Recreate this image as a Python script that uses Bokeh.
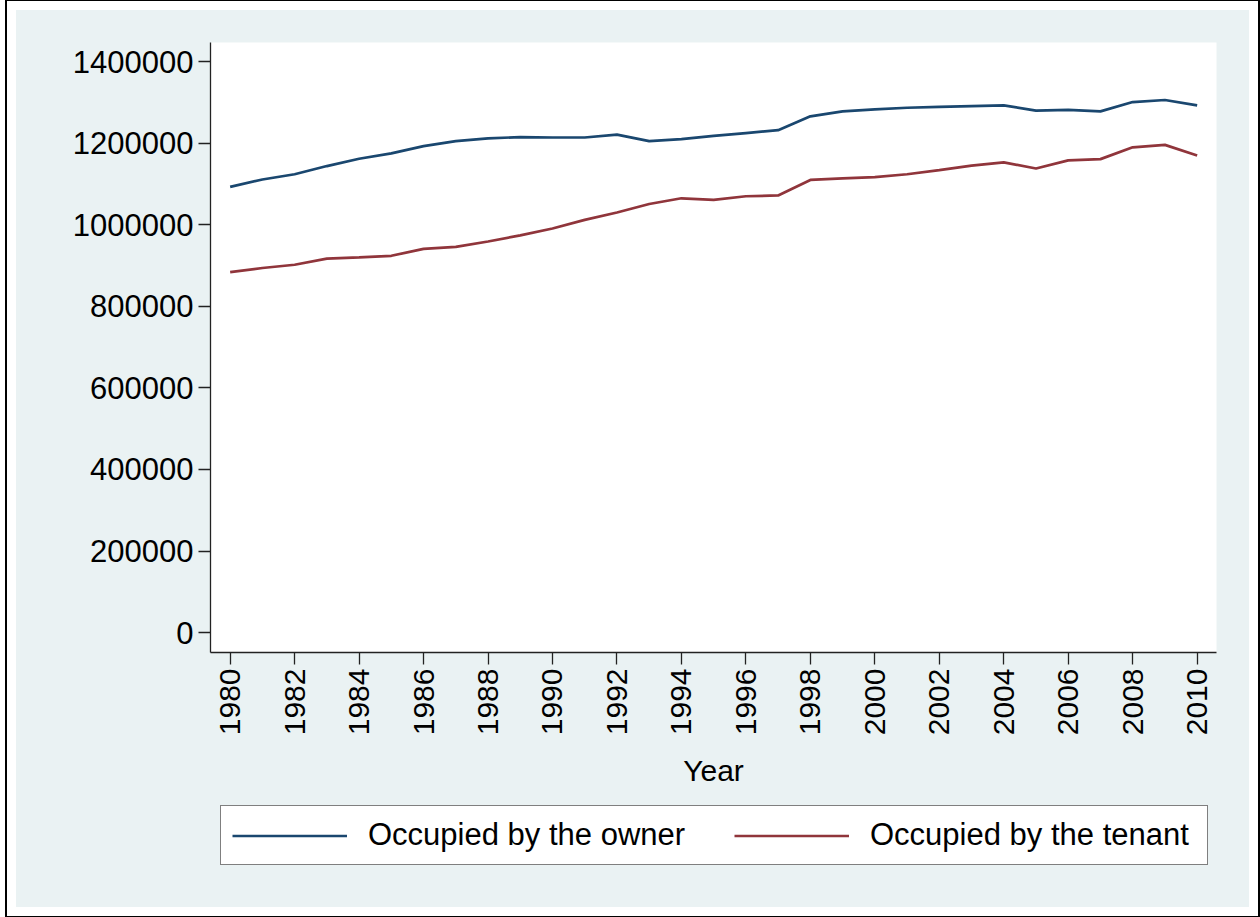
import math
from bokeh.plotting import figure
from bokeh.layouts import row, column
from bokeh.models import (Range1d, FixedTicker, BasicTickFormatter, Legend, LegendItem, Spacer)
from bokeh.embed import file_html
from bokeh.resources import INLINE

years = list(range(1980, 2011))
owner = [1093000, 1111000, 1124000, 1144000, 1162000, 1175000, 1193000, 1205000,
         1212000, 1215000, 1214000, 1214000, 1221000, 1205000, 1210000, 1218000,
         1225000, 1232000, 1266000, 1278000, 1283000, 1287000, 1289000, 1291000,
         1293000, 1280000, 1282000, 1278000, 1301000, 1306000, 1293000]
tenant = [884000, 894000, 902000, 917000, 920000, 924000, 941000, 946000,
          959000, 974000, 991000, 1012000, 1030000, 1051000, 1065000, 1061000,
          1070000, 1072000, 1110000, 1114000, 1117000, 1124000, 1134000, 1145000,
          1153000, 1138000, 1158000, 1161000, 1190000, 1196000, 1170000]
y_ticks = [0, 200000, 400000, 600000, 800000, 1000000, 1200000, 1400000]
x_ticks = list(range(1980, 2011, 2))
labels = ["Occupied by the owner", "Occupied by the tenant"]
colors = ["#1a476f", "#90353b"]

FONT = "Liberation Sans"
BG = "#eaf2f3"
LW = 2.7

# main chart
p = figure(width=1233, height=780, output_backend="svg", toolbar_location=None,
           x_range=Range1d(1979.39, 2010.6), y_range=Range1d(-48800, 1447000),
           min_border_left=194, min_border_top=32, min_border_right=33,
           min_border_bottom=135,
           background_fill_color="white", border_fill_color=BG,
           outline_line_color=None)

p.xgrid.visible = False
p.ygrid.visible = False

p.line(years, owner, line_color=colors[0], line_width=LW)
p.line(years, tenant, line_color=colors[1], line_width=LW)

for ax in (p.xaxis[0], p.yaxis[0]):
    ax.axis_line_color = "#222222"
    ax.axis_line_width = 1.3
    ax.major_tick_line_color = "#222222"
    ax.major_tick_line_width = 1.3
    ax.major_tick_in = 0
    ax.major_tick_out = 12
    ax.minor_tick_line_color = None
    ax.major_label_text_font = FONT
    ax.major_label_text_color = "black"

p.yaxis[0].ticker = FixedTicker(ticks=y_ticks)
p.yaxis[0].formatter = BasicTickFormatter(use_scientific=False)
p.yaxis[0].major_label_standoff = 5
p.yaxis[0].major_label_text_font_size = "31px"

p.xaxis[0].ticker = FixedTicker(ticks=x_ticks)
p.xaxis[0].major_label_orientation = math.pi / 2
p.xaxis[0].major_label_standoff = 4
p.xaxis[0].major_label_text_font_size = "30px"
p.xaxis[0].axis_label = "Year"
p.xaxis[0].axis_label_text_font = FONT
p.xaxis[0].axis_label_text_font_size = "30px"
p.xaxis[0].axis_label_text_font_style = "normal"
p.xaxis[0].axis_label_text_color = "black"
p.xaxis[0].axis_label_standoff = 16

# legend strip (legend keys need a non-empty, undrawn source)
nan = float("nan")
q = figure(width=1233, height=117, output_backend="svg", toolbar_location=None,
           x_range=Range1d(0, 1), y_range=Range1d(0, 1),
           x_axis_location=None, y_axis_location=None,
           min_border_left=0, min_border_right=0, min_border_top=0, min_border_bottom=0,
           background_fill_color=None, background_fill_alpha=0,
           border_fill_color=BG, outline_line_color=None)
q.xgrid.visible = False
q.ygrid.visible = False
k1 = q.line(x=[nan, nan], y=[nan, nan], line_color=colors[0], line_width=LW)
k2 = q.line(x=[nan, nan], y=[nan, nan], line_color=colors[1], line_width=LW)

legend = Legend(items=[LegendItem(label=labels[0], renderers=[k1]),
                       LegendItem(label=labels[1], renderers=[k2])],
                orientation="horizontal", location=(10, 42),
                label_text_font=FONT, label_text_font_size="31px",
                label_text_color="black",
                glyph_width=115, glyph_height=31, label_height=31, label_width=326,
                label_standoff=21, spacing=40, padding=11, margin=0,
                border_line_color="black", border_line_width=1.2,
                background_fill_color="white", background_fill_alpha=1.0)
q.add_layout(legend, "center")

inner = column(p, q, spacing=0,
               styles={"outline": "2px solid black", "outline-offset": "9px",
                       "background-color": BG})
layout = column(Spacer(height=10), row(Spacer(width=16), inner))

open("out.html", "w").write(file_html(layout, INLINE))
